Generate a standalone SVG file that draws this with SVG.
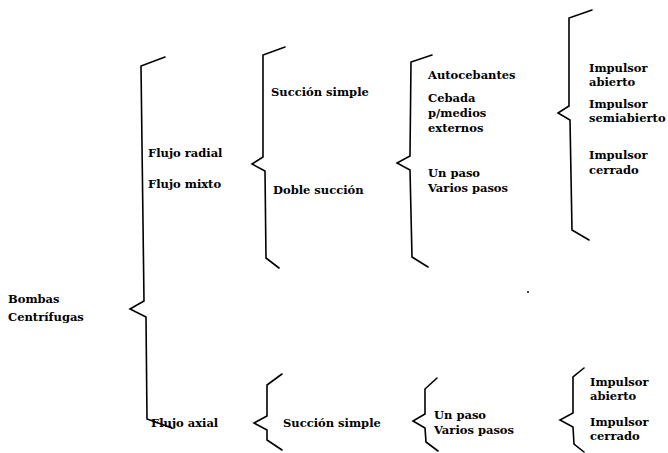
<svg xmlns="http://www.w3.org/2000/svg" width="668" height="453" viewBox="0 0 668 453">
<style>
.b{fill:none;stroke:#000;stroke-width:1.6;stroke-linejoin:miter;stroke-linecap:round}
text{font-family:"DejaVu Serif","Liberation Serif",serif;font-weight:bold;font-size:11.5px;fill:#000}
</style>
<rect width="668" height="453" fill="#fff"/>
<g id="connectors">
<path class="b" d="M165,57 L141,66 L144,301 L130,309 L146,317 L147,419 L172,428"/>
<path class="b" d="M285,47 L263,55 L263,157 L252,164 L265,171 L266,258 L279,268"/>
<path class="b" d="M432,55 L411,62 L410,156 L397,163 L410,170 L412,257 L428,267"/>
<path class="b" d="M592,10 L569,18 L569,106 L558,113 L570,120 L572,230 L589,240"/>
<path class="b" d="M282,374 L267,385 L267,416 L254,423 L267,430 L267,440 L282,450"/>
<path class="b" d="M437,378 L425,389 L425,414 L413,421 L425,428 L426,442 L438,451"/>
<path class="b" d="M584,368 L573,377 L573,413 L560,420 L573,427 L574,444 L584,452"/>
</g>
<g id="root"><text x="8" y="303">Bombas</text><text x="8" y="321">Centrífugas</text></g>
<g id="flujo-radial"><text x="148" y="157">Flujo radial</text></g>
<g id="flujo-mixto"><text x="148" y="188">Flujo mixto</text></g>
<g id="flujo-axial"><text x="151" y="427">Flujo axial</text></g>
<g id="succion-simple-1"><text x="271" y="96">Succión simple</text></g>
<g id="doble-succion"><text x="273" y="194">Doble succión</text></g>
<g id="autocebantes"><text x="428" y="79">Autocebantes</text></g>
<g id="cebada"><text x="428" y="102">Cebada</text><text x="428" y="117">p/medios</text><text x="428" y="132">externos</text></g>
<g id="pasos-1"><text x="428" y="177">Un paso</text><text x="428" y="192">Varios pasos</text></g>
<g id="imp-abierto-1"><text x="589" y="72">Impulsor</text><text x="589" y="86">abierto</text></g>
<g id="imp-semi"><text x="589" y="108">Impulsor</text><text x="589" y="122">semiabierto</text></g>
<g id="imp-cerrado-1"><text x="589" y="159">Impulsor</text><text x="589" y="174">cerrado</text></g>
<g id="succion-simple-2"><text x="283" y="427">Succión simple</text></g>
<g id="pasos-2"><text x="434" y="419">Un paso</text><text x="434" y="434">Varios pasos</text></g>
<g id="imp-abierto-2"><text x="590" y="386">Impulsor</text><text x="590" y="400">abierto</text></g>
<g id="imp-cerrado-2"><text x="590" y="426">Impulsor</text><text x="590" y="440">cerrado</text></g>
<circle cx="528" cy="292" r="1" fill="#000"/>
</svg>
